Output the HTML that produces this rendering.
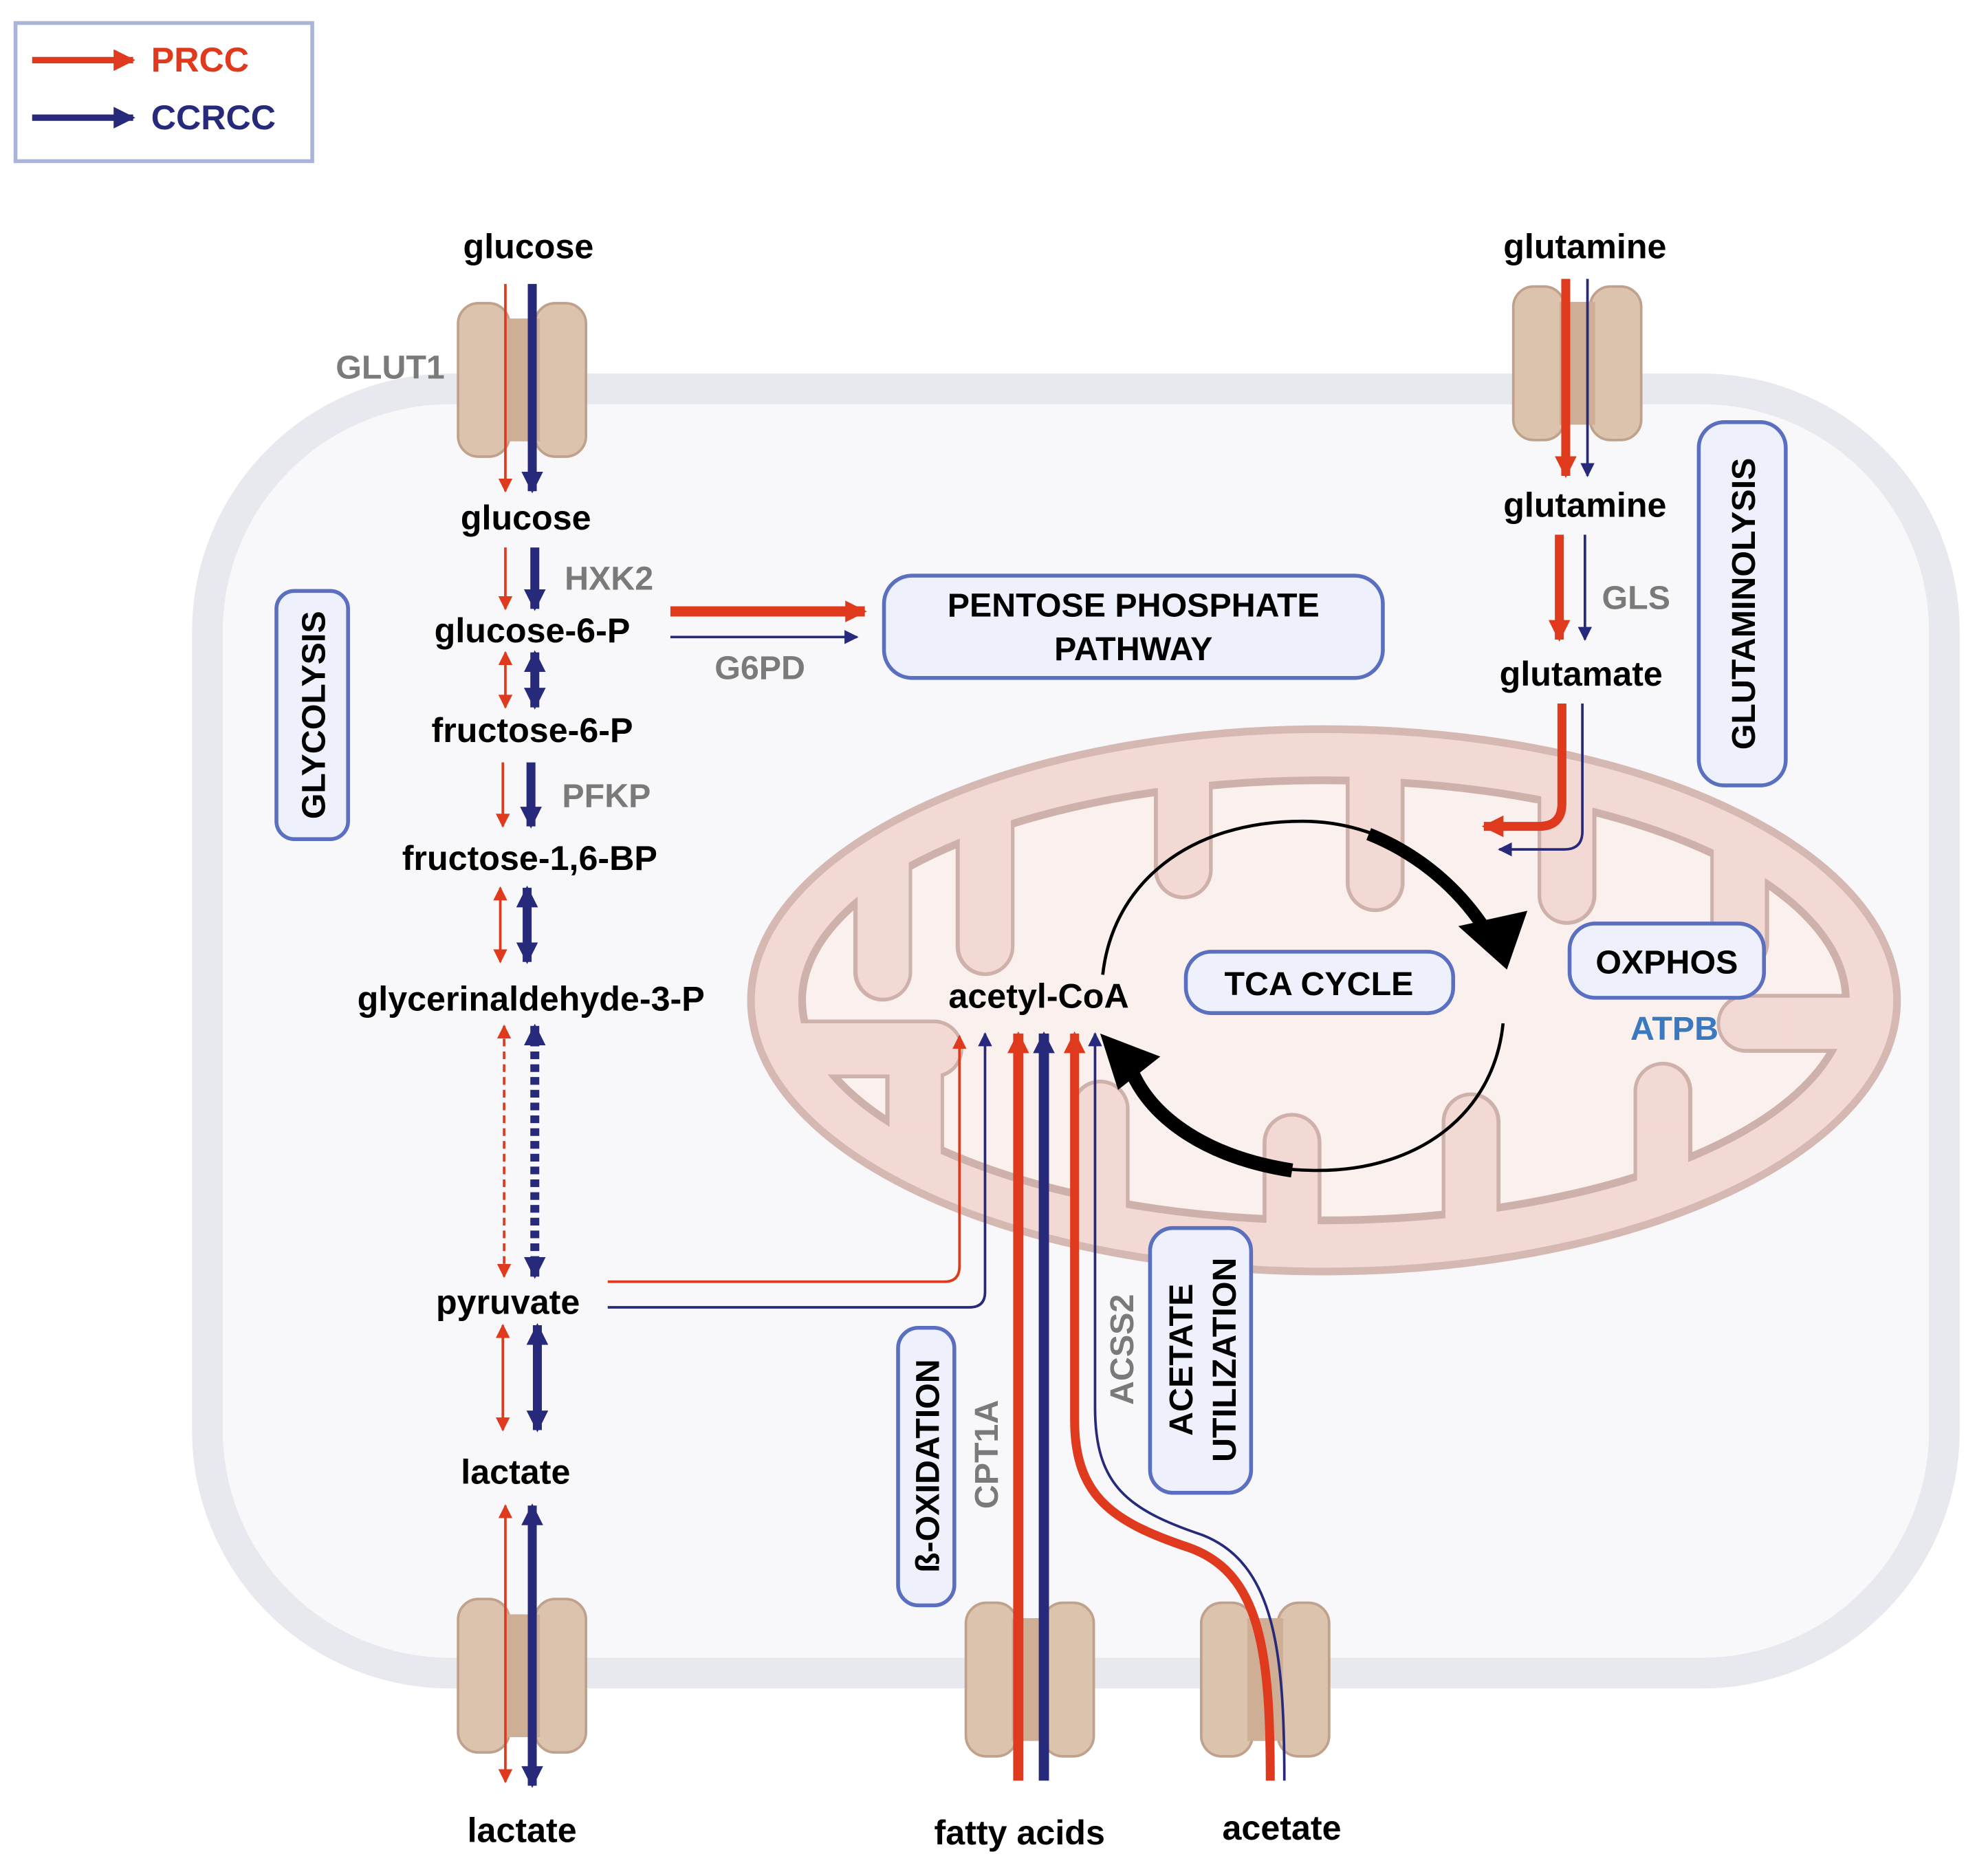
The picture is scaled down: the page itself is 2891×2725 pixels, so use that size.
<!DOCTYPE html>
<html><head><meta charset="utf-8"><style>
html,body{margin:0;padding:0;background:#fff;}
svg{display:block;}
text{font-family:"Liberation Sans",Arial,sans-serif;font-weight:bold;}
</style></head><body>
<svg width="2891" height="2725" viewBox="0 0 1554 1465" xmlns="http://www.w3.org/2000/svg">
<defs>
<marker id="rt" viewBox="0 0 10 10" refX="9" refY="5" markerWidth="11" markerHeight="11" markerUnits="userSpaceOnUse" orient="auto-start-reverse"><path d="M0,0 L10,5 L0,10 z" fill="#e03a1e"/></marker>
<marker id="rT" viewBox="0 0 10 10" refX="9" refY="5" markerWidth="17" markerHeight="17" markerUnits="userSpaceOnUse" orient="auto-start-reverse"><path d="M0,0 L10,5 L0,10 z" fill="#e03a1e"/></marker>
<marker id="bt" viewBox="0 0 10 10" refX="9" refY="5" markerWidth="11" markerHeight="11" markerUnits="userSpaceOnUse" orient="auto-start-reverse"><path d="M0,0 L10,5 L0,10 z" fill="#272a7a"/></marker>
<marker id="bT" viewBox="0 0 10 10" refX="9" refY="5" markerWidth="17" markerHeight="17" markerUnits="userSpaceOnUse" orient="auto-start-reverse"><path d="M0,0 L10,5 L0,10 z" fill="#272a7a"/></marker>
<g id="tp">
<rect x="-50" y="-60" width="40" height="120" rx="16" fill="#dcc3ae" stroke="#bfa18c" stroke-width="2"/>
<rect x="10" y="-60" width="40" height="120" rx="16" fill="#dcc3ae" stroke="#bfa18c" stroke-width="2"/>
<rect x="-14" y="-48" width="28" height="96" fill="#cfae96"/>
</g>
<clipPath id="ci"><ellipse cx="1035" cy="782" rx="408" ry="172"/></clipPath>
<clipPath id="ci2"><ellipse cx="1035" cy="782" rx="413" ry="177"/></clipPath>
<g id="fingers">
<rect x="670" y="560" width="40" height="220" rx="20"/>
<rect x="750" y="560" width="40" height="200" rx="20"/>
<rect x="905" y="560" width="40" height="140" rx="20"/>
<rect x="1055" y="560" width="40" height="150" rx="20"/>
<rect x="1205" y="560" width="40" height="160" rx="20"/>
<rect x="1340" y="560" width="40" height="197" rx="20"/>
<rect x="695" y="800" width="40" height="210" rx="20"/>
<rect x="840" y="847" width="40" height="160" rx="20"/>
<rect x="990" y="873" width="40" height="140" rx="20"/>
<rect x="1130" y="857" width="40" height="150" rx="20"/>
<rect x="1280" y="833" width="40" height="170" rx="20"/>
<rect x="600" y="800" width="150" height="40" rx="20"/>
<rect x="1345" y="780" width="140" height="40" rx="20"/>
</g>
</defs>
<rect width="1554" height="1465" fill="#fff"/>
<!-- legend -->
<rect x="12" y="18" width="232" height="108" fill="#fff" stroke="#a9b4d6" stroke-width="3"/>
<line x1="25" y1="47" x2="104" y2="47" stroke="#e03a1e" stroke-width="5" marker-end="url(#rT)"/>
<line x1="25" y1="92" x2="104" y2="92" stroke="#272a7a" stroke-width="5" marker-end="url(#bT)"/>
<text x="118" y="56" font-size="27" fill="#e03a1e">PRCC</text>
<text x="118" y="101" font-size="27" fill="#272a7a">CCRCC</text>
<!-- cell -->
<rect x="162" y="304" width="1358" height="1004" rx="190" fill="#f8f8fa" stroke="#e8e9ee" stroke-width="24"/>
<!-- mitochondrion -->
<ellipse cx="1035" cy="782" rx="448" ry="212" fill="#f3d9d4" stroke="#d6b8b2" stroke-width="6"/>
<ellipse cx="1035" cy="782" rx="408" ry="172" fill="#faf1ef" stroke="#cfb1ac" stroke-width="6"/>
<g clip-path="url(#ci)" fill="#f3d9d4" stroke="#cfb1ac" stroke-width="6"><use href="#fingers"/></g>
<g clip-path="url(#ci2)" fill="#f3d9d4" stroke="none"><use href="#fingers" transform="translate(1035 782) scale(0.999) translate(-1035 -782)" style="stroke:none"/></g>
<g clip-path="url(#ci2)" fill="#f3d9d4">
<rect x="673" y="555" width="34" height="100"/>
<rect x="753" y="555" width="34" height="100"/>
<rect x="908" y="555" width="34" height="100"/>
<rect x="1058" y="555" width="34" height="100"/>
<rect x="1208" y="555" width="34" height="100"/>
<rect x="1343" y="555" width="34" height="140"/>
<rect x="698" y="880" width="34" height="140"/>
<rect x="843" y="900" width="34" height="120"/>
<rect x="993" y="900" width="34" height="120"/>
<rect x="1133" y="900" width="34" height="120"/>
<rect x="1283" y="880" width="34" height="130"/>
<rect x="590" y="803" width="90" height="34"/>
<rect x="1400" y="783" width="90" height="34"/>
</g>
<!-- transporters -->
<use href="#tp" x="408" y="297"/>
<use href="#tp" x="1233" y="284"/>
<use href="#tp" x="408" y="1310"/>
<use href="#tp" x="805" y="1313"/>
<use href="#tp" x="989" y="1313"/>
<!-- arrows -->
<g fill="none">
<line x1="395" y1="222" x2="395" y2="384" stroke="#e03a1e" stroke-width="2" marker-end="url(#rt)"/>
<line x1="416" y1="222" x2="416" y2="384" stroke="#272a7a" stroke-width="7" marker-end="url(#bT)"/>
<line x1="395" y1="428" x2="395" y2="476" stroke="#e03a1e" stroke-width="2" marker-end="url(#rt)"/>
<line x1="418" y1="428" x2="418" y2="476" stroke="#272a7a" stroke-width="7" marker-end="url(#bT)"/>
<line x1="395" y1="510" x2="395" y2="553" stroke="#e03a1e" stroke-width="2" marker-start="url(#rt)" marker-end="url(#rt)"/>
<line x1="418" y1="510" x2="418" y2="553" stroke="#272a7a" stroke-width="7" marker-start="url(#bT)" marker-end="url(#bT)"/>
<line x1="393" y1="596" x2="393" y2="646" stroke="#e03a1e" stroke-width="2" marker-end="url(#rt)"/>
<line x1="415" y1="596" x2="415" y2="646" stroke="#272a7a" stroke-width="7" marker-end="url(#bT)"/>
<line x1="391" y1="694" x2="391" y2="752" stroke="#e03a1e" stroke-width="2" marker-start="url(#rt)" marker-end="url(#rt)"/>
<line x1="412" y1="694" x2="412" y2="752" stroke="#272a7a" stroke-width="7" marker-start="url(#bT)" marker-end="url(#bT)"/>
<line x1="394" y1="802" x2="394" y2="998" stroke="#e03a1e" stroke-width="2" stroke-dasharray="6,4" marker-start="url(#rt)" marker-end="url(#rt)"/>
<line x1="418" y1="802" x2="418" y2="998" stroke="#272a7a" stroke-width="7" stroke-dasharray="6,4" marker-start="url(#bT)" marker-end="url(#bT)"/>
<line x1="393" y1="1036" x2="393" y2="1118" stroke="#e03a1e" stroke-width="2" marker-start="url(#rt)" marker-end="url(#rt)"/>
<line x1="420" y1="1036" x2="420" y2="1118" stroke="#272a7a" stroke-width="7" marker-start="url(#bT)" marker-end="url(#bT)"/>
<line x1="395" y1="1177" x2="395" y2="1393" stroke="#e03a1e" stroke-width="2" marker-start="url(#rt)" marker-end="url(#rt)"/>
<line x1="416" y1="1177" x2="416" y2="1396" stroke="#272a7a" stroke-width="7" marker-start="url(#bT)" marker-end="url(#bT)"/>
<line x1="524" y1="478" x2="676" y2="478" stroke="#e03a1e" stroke-width="8" marker-end="url(#rT)"/>
<line x1="524" y1="498" x2="670" y2="498" stroke="#272a7a" stroke-width="2" marker-end="url(#bt)"/>
<line x1="1224" y1="218" x2="1224" y2="372" stroke="#e03a1e" stroke-width="7" marker-end="url(#rT)"/>
<line x1="1241" y1="218" x2="1241" y2="372" stroke="#272a7a" stroke-width="2" marker-end="url(#bt)"/>
<line x1="1219" y1="418" x2="1219" y2="500" stroke="#e03a1e" stroke-width="7" marker-end="url(#rT)"/>
<line x1="1239" y1="418" x2="1239" y2="500" stroke="#272a7a" stroke-width="2" marker-end="url(#bt)"/>
<path d="M1221,550 L1221,628 Q1221,646 1203,646 L1160,646" stroke="#e03a1e" stroke-width="7" marker-end="url(#rT)"/>
<path d="M1237,550 L1237,650 Q1237,664 1223,664 L1172,664" stroke="#272a7a" stroke-width="2" marker-end="url(#bt)"/>
<path d="M475,1002 L738,1002 Q750,1002 750,990 L750,810" stroke="#e03a1e" stroke-width="2" marker-end="url(#rt)"/>
<path d="M475,1022 L758,1022 Q770,1022 770,1010 L770,808" stroke="#272a7a" stroke-width="2" marker-end="url(#bt)"/>
<line x1="796" y1="1392" x2="796" y2="808" stroke="#e03a1e" stroke-width="8" marker-end="url(#rT)"/>
<line x1="816" y1="1392" x2="816" y2="808" stroke="#272a7a" stroke-width="8" marker-end="url(#bT)"/>
<path d="M993,1392 C993,1290 985,1230 930,1210 C870,1190 840,1170 840,1110 L840,808" stroke="#e03a1e" stroke-width="7" marker-end="url(#rT)"/>
<path d="M1004,1392 C1004,1290 996,1222 940,1200 C880,1180 856,1160 856,1100 L856,808" stroke="#272a7a" stroke-width="2" marker-end="url(#bt)"/>
<!-- TCA -->
<path d="M862,762 C870,690 930,642 1018,642 C1090,642 1140,690 1160,720" stroke="#000" stroke-width="2.5"/>
<path d="M1070,652 C1110,668 1140,695 1160,725" stroke="#000" stroke-width="10"/>
<path d="M1175,800 C1168,870 1110,915 1030,915 C955,915 895,880 880,835" stroke="#000" stroke-width="2.5"/>
<path d="M1010,915 C945,905 900,875 884,836" stroke="#000" stroke-width="11"/>
</g>
<polygon points="1140,724 1194,712 1178,758" fill="#000"/>
<polygon points="860,808 907,826 874,852" fill="#000"/>
<!-- boxes -->
<g fill="#eef1fb" stroke="#5a6fc0" stroke-width="3">
<rect x="216" y="462" width="56" height="194" rx="14"/>
<rect x="691" y="450" width="390" height="80" rx="22"/>
<rect x="1328" y="330" width="68" height="284" rx="20"/>
<rect x="927" y="744" width="209" height="48" rx="20"/>
<rect x="1227" y="722" width="152" height="58" rx="20"/>
<rect x="702" y="1038" width="44" height="217" rx="16"/>
<rect x="899" y="960" width="79" height="207" rx="18"/>
</g>
<g font-size="26" fill="#000" text-anchor="middle">
<text x="886" y="482">PENTOSE PHOSPHATE</text>
<text x="886" y="516">PATHWAY</text>
<text x="1031" y="778">TCA CYCLE</text>
<text x="1303" y="761">OXPHOS</text>
<text transform="translate(254,559) rotate(-90)">GLYCOLYSIS</text>
<text transform="translate(1372,472) rotate(-90)">GLUTAMINOLYSIS</text>
<text transform="translate(734,1146) rotate(-90)">ß-OXIDATION</text>
<text transform="translate(932,1063) rotate(-90)">ACETATE</text>
<text transform="translate(966,1063) rotate(-90)">UTILIZATION</text>
</g>
<g font-size="27" fill="#000" text-anchor="middle">
<text x="413" y="202">glucose</text>
<text x="411" y="414">glucose</text>
<text x="416" y="502">glucose-6-P</text>
<text x="416" y="580">fructose-6-P</text>
<text x="414" y="680">fructose-1,6-BP</text>
<text x="415" y="790">glycerinaldehyde-3-P</text>
<text x="397" y="1027">pyruvate</text>
<text x="403" y="1160">lactate</text>
<text x="408" y="1440">lactate</text>
<text x="797" y="1442">fatty acids</text>
<text x="1002" y="1438">acetate</text>
<text x="812" y="788">acetyl-CoA</text>
<text x="1239" y="202">glutamine</text>
<text x="1239" y="404">glutamine</text>
<text x="1236" y="536">glutamate</text>
</g>
<g font-size="26" fill="#7a7a7a" text-anchor="middle">
<text x="305" y="296">GLUT1</text>
<text x="476" y="461">HXK2</text>
<text x="594" y="531">G6PD</text>
<text x="474" y="631">PFKP</text>
<text x="1279" y="476">GLS</text>
<text transform="translate(780,1137) rotate(-90)">CPT1A</text>
<text transform="translate(886,1055) rotate(-90)">ACSS2</text>
<text x="1309" y="813" fill="#3a78c0">ATPB</text>
</g>
</svg>
</body></html>
